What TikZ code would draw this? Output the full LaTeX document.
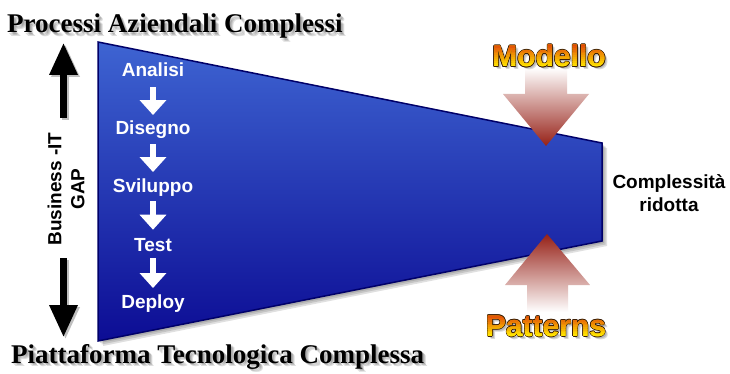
\documentclass[tikz,border=0pt]{standalone}
\usepackage{fontspec}
\setmainfont{Liberation Sans}
\newfontfamily\titlefont{Liberation Serif}
\usetikzlibrary{arrows.meta,calc}

\definecolor{funnelTop}{RGB}{62,100,210}
\definecolor{funnelBot}{RGB}{12,12,148}
\definecolor{funnelEdge}{RGB}{0,0,105}
\definecolor{tipRed}{RGB}{150,32,22}
\definecolor{rose}{RGB}{226,172,166}
\definecolor{flameTop}{RGB}{225,72,8}
\definecolor{flameBot}{RGB}{255,226,0}
\definecolor{outlineDark}{RGB}{60,30,5}

\begin{document}
\begin{tikzpicture}[x=1pt,y=-1pt,
  steptext/.style={text=white, font=\bfseries\fontsize{19}{19}\selectfont, inner sep=0pt, anchor=base},
  steparrow/.style={draw=white, line width=6pt, -{Triangle[length=15pt,width=26pt]}},
  gaparrow/.style={draw=black, line width=6.5pt, -{Triangle[length=32pt,width=27pt]}},
  sidetext/.style={font=\bfseries\fontsize{19}{23}\selectfont, align=center, inner sep=0pt},
  titletext/.style={font=\titlefont\bfseries\fontsize{27}{27}\selectfont, inner sep=0pt, anchor=base west},
  flametext/.style={font=\bfseries\fontsize{30}{30}\selectfont, inner sep=0pt},
  softshadow/.style={fill=black, opacity=0.12},
]
\useasboundingbox (0,0) rectangle (730,374);
\fill[white] (0,0) rectangle (730,374);

% ---- funnel with its soft drop shadow
\foreach \s in {2,3.5,5}
  \fill[softshadow, shift={(\s,\s)}] (98,42) -- (602,143) -- (602,241) -- (98,341) -- cycle;
\shade[top color=funnelTop, bottom color=funnelBot, draw=funnelEdge, line width=1.5pt, line join=miter]
  (98,42) -- (602,143) -- (602,241) -- (98,341) -- cycle;

% ---- titles
\foreach \s in {1.5,2.5,3.5}{
  \node[titletext, text=black, opacity=0.13] at (7+\s,33+\s) {Processi Aziendali Complessi};
  \node[titletext, text=black, opacity=0.13] at (11+\s,363+\s) {Piattaforma Tecnologica Complessa};
}
\node[titletext] (topTitle) at (7,33) {Processi Aziendali Complessi};
\node[titletext] (bottomTitle) at (11,363) {Piattaforma Tecnologica Complessa};

% ---- development steps
\node[steptext] (analisi)  at (153,77)  {Analisi};
\node[steptext] (disegno)  at (153,135) {Disegno};
\node[steptext] (sviluppo) at (153,192) {Sviluppo};
\node[steptext] (test)     at (153,251) {Test};
\node[steptext] (deploy)   at (153,308) {Deploy};

\draw[steparrow, shorten <=10pt, shorten >=6pt] (analisi.south)  -- (analisi.south |- disegno.north);
\draw[steparrow, shorten <=5pt,  shorten >=6pt] (disegno.south)  -- (disegno.south |- sviluppo.north);
\draw[steparrow, shorten <=5pt,  shorten >=8pt] (sviluppo.south) -- (sviluppo.south |- test.north);
\draw[steparrow, shorten <=7pt,  shorten >=6pt] (test.south)     -- (test.south |- deploy.north);

% ---- business / IT gap
\node[sidetext, rotate=90] (gap) at (66,189) {Business -IT\\GAP};
\coordinate (gapTop) at (63.5,43);
\coordinate (gapBottom) at (63.5,337);
\draw[gaparrow, draw=black!25] ([shift={(2,2)}]63.5,118) -- ([shift={(2,2)}]gapTop);
\draw[gaparrow, draw=black!25] ([shift={(2,2)}]63.5,258) -- ([shift={(2,2)}]gapBottom);
\draw[gaparrow] (63.5,118) -- (gapTop);
\draw[gaparrow] (63.5,258) -- (gapBottom);

% ---- right end of the funnel
\node[sidetext] (ridotta) at (669,193) {Complessit\`a\\ridotta};

% ---- pressing arrows
\shade[top color=white, middle color=rose, bottom color=tipRed]
  (525,68) -- (567,68) -- (567,94) -- (589,94) -- (546,146) -- (503,94) -- (525,94) -- cycle;
\shade[bottom color=white, middle color=rose, top color=tipRed]
  (527,312) -- (568,312) -- (568,285) -- (590,285) -- (547,234) -- (505,285) -- (527,285) -- cycle;

% ---- flame-coloured words: dark rim, then horizontal colour bands
\foreach \word/\px/\py/\nm in {Modello/549/56/modello, Patterns/546/326/patterns}{
  \foreach \s in {2,3}
    \node[flametext, text=black, opacity=0.15] at (\px+\s,\py+\s) {\word};
  \foreach \dx/\dy in {0.9/0,-0.9/0,0/0.9,0/-0.9,0.65/0.65,-0.65/0.65,0.65/-0.65,-0.65/-0.65}
    \node[flametext, text=outlineDark] at (\px+\dx,\py+\dy) {\word};
  \node[flametext, text=flameBot] (\nm) at (\px,\py) {\word};
  \foreach \i in {0,...,11}{
    \pgfmathsetmacro{\mix}{100-100*\i/11}
    \pgfmathsetmacro{\fa}{\i/12}
    \pgfmathsetmacro{\fb}{(\i+1)/12}
    \begin{scope}
      \clip ($(\nm.north west)!\fa!(\nm.south west)+(-3,-0.2)$)
        rectangle ($(\nm.north east)!\fb!(\nm.south east)+(3,0.2)$);
      \node[flametext, text=flameTop!\mix!flameBot] at (\px,\py) {\word};
    \end{scope}
  }
}
\end{tikzpicture}
\end{document}
